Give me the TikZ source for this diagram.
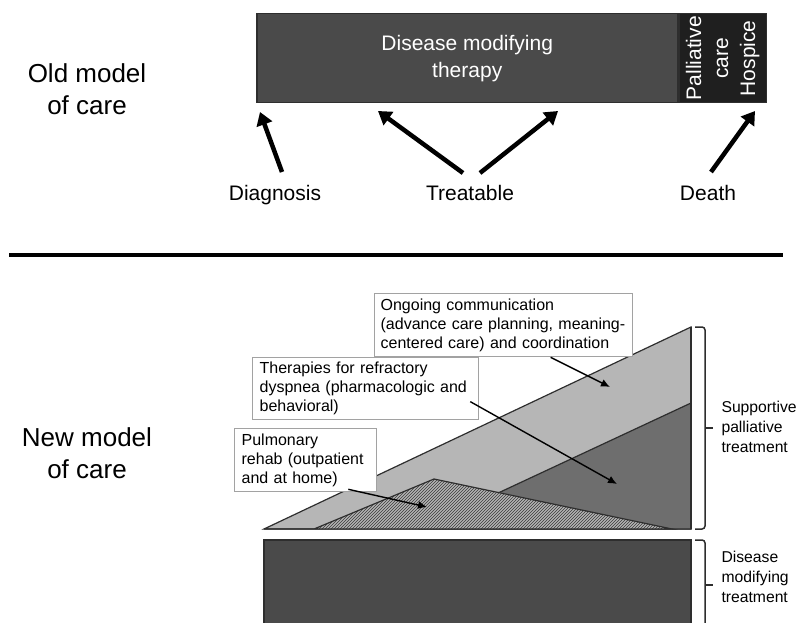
\documentclass[tikz,border=0pt]{standalone}
\usepackage{fontspec}
\setmainfont{Liberation Sans}
\usepackage{tikz}
\usetikzlibrary{arrows.meta}
\usetikzlibrary{calc}
\usetikzlibrary{patterns}
\tikzset{>=latex}

\definecolor{darkbox}{HTML}{4A4A4A}
\definecolor{hospbox}{HTML}{1F1F1F}
\definecolor{lightband}{HTML}{B6B6B6}
\definecolor{midband}{HTML}{6E6E6E}
\definecolor{hatchbg}{HTML}{B4B4B4}
\definecolor{hatchline}{HTML}{3A3A3A}
\definecolor{edgegray}{HTML}{2E2E2E}
\definecolor{calloutgray}{HTML}{A2A2A2}

\tikzset{
  modeltext/.style={align=center, font=\fontsize{26}{32}\selectfont},
  therapybox/.style={fill=darkbox, draw=edgegray, line width=1.5pt, text=white, align=center,
    minimum width=421pt, minimum height=89pt, font=\fontsize{21}{27}\selectfont},
  hospicebox/.style={fill=hospbox, draw=edgegray, line width=1.5pt, text=white, align=center,
    rotate=90, minimum width=89pt, minimum height=87pt, inner sep=0pt, font=\fontsize{21}{27}\selectfont},
  pointlabel/.style={anchor=north, font=\fontsize{21}{25}\selectfont},
  bigarrow/.style={line width=4.5pt, -{Triangle[length=13pt,width=16pt]}},
  callout/.style={draw=calloutgray, line width=1.3pt, fill=white, anchor=north west, align=left,
    inner ysep=3pt, font=\fontsize{16}{19}\selectfont},
  calloutarrow/.style={line width=1.4pt, -{Latex[length=9pt,width=8pt]}},
  sidelabel/.style={anchor=west, align=left, font=\fontsize{15.7}{20}\selectfont},
  bracket/.style={draw=edgegray, line width=1.5pt, rounded corners=3pt}
}

\begin{document}
\begin{tikzpicture}[x=1pt,y=-1pt]
  \useasboundingbox (0,0) rectangle (801,623);

  \node[modeltext] (oldmodel) at (87,89) {Old model\\of care};
  \node[therapybox, anchor=north west] (therapy) at (256,13) {Disease modifying\\therapy};
  \node[hospicebox, anchor=north] (hospice) at (therapy.east) {Palliative\\care\\Hospice};

  \node[pointlabel] (diag) at (275,182) {Diagnosis};
  \node[pointlabel] (treat) at (470,182) {Treatable};
  \node[pointlabel] (death) at (708,182) {Death};
  \coordinate (diagtip) at (260,112);
  \coordinate (treattipA) at (378,111);
  \coordinate (treattipB) at (558,111);
  \coordinate (deathtip) at (755,111);
  \draw[bigarrow] ($(diag.north)+(7,-10)$) -- (diagtip);
  \draw[bigarrow] ($(treat.north)+(-7,-9)$) -- (treattipA);
  \draw[bigarrow] ($(treat.north)+(10,-9)$) -- (treattipB);
  \draw[bigarrow] ($(death.north)+(3,-10)$) -- (deathtip);

  \draw[line width=3.5pt] (9,255) -- (783,255);

  \node[modeltext] (newmodel) at (87,453) {New model\\of care};

  \filldraw[fill=lightband, draw=edgegray, line width=1.2pt] (264,529) -- (691,327) -- (691,529) -- cycle;
  \filldraw[fill=midband, draw=edgegray, line width=1.2pt] (421,529) -- (691,403) -- (691,529) -- cycle;
  \fill[hatchbg] (314,529) -- (434,479) -- (672,529) -- cycle;
  \fill[pattern=north east lines, pattern color=hatchline] (314,529) -- (434,479) -- (672,529) -- cycle;
  \draw[edgegray, line width=1.2pt] (314,529) -- (434,479) -- (672,529) -- (264,529);
  \draw[edgegray, line width=1.5pt] (691,327) -- (691,529);

  \fill[darkbox] (264,540) rectangle (691,623);
  \draw[edgegray, line width=1.5pt] (264,623) |- (691,540) -- (691,623);

  \draw[bracket] (695,327) -- (705,327) -- (705,529) -- (695,529);
  \draw[edgegray, line width=1.5pt] (705,428) -- (713,428);
  \draw[bracket] (695,540) -- (705,540) -- (705,640);
  \draw[edgegray, line width=1.5pt] (705,585) -- (713,585);
  \node[sidelabel] (supportive) at (718,427) {Supportive\\palliative\\treatment};
  \node[sidelabel] (modifying) at (718,577) {Disease\\modifying\\treatment};

  \node[callout, text width=246pt, inner xsep=6pt, minimum height=63pt] (ongoing) at (374,293)
    {Ongoing communication\\(advance care planning, meaning-\\centered care) and coordination};
  \node[callout, text width=212pt, inner xsep=7pt, minimum height=62pt] (dyspnea) at (252,357)
    {Therapies for refractory\\dyspnea (pharmacologic and\\behavioral)};
  \node[callout, text width=128pt, inner xsep=7pt, minimum height=63pt] (rehab) at (234,428)
    {Pulmonary\\rehab (outpatient\\and at home)};

  \coordinate (ongoingtip) at (610,387);
  \coordinate (dyspneatip) at (617,484);
  \coordinate (rehabtip) at (427,507);
  \draw[calloutarrow] ($(ongoing.south)+(47,0)$) -- (ongoingtip);
  \draw[calloutarrow] ($(dyspnea.east)+(-9,13)$) -- (dyspneatip);
  \draw[calloutarrow] ($(rehab.south east)+(-29,-3)$) -- (rehabtip);
\end{tikzpicture}
\end{document}
